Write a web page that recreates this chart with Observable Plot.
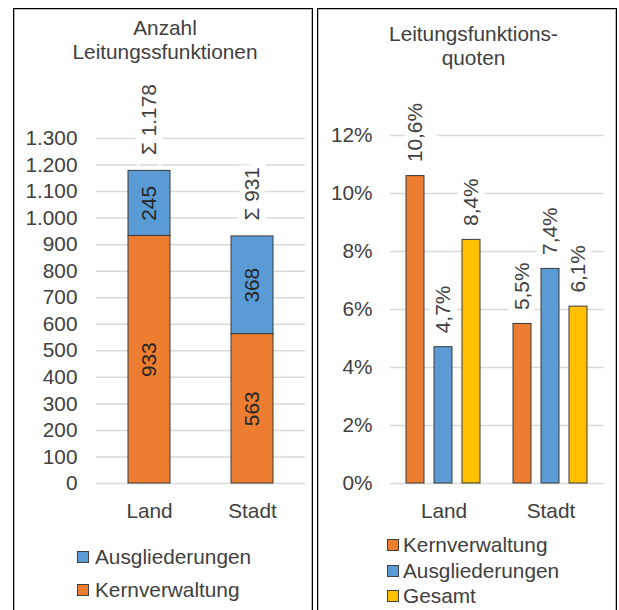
<!DOCTYPE html>
<html>
<head>
<meta charset="utf-8">
<script src="https://cdn.jsdelivr.net/npm/d3@7"></script>
<script src="https://cdn.jsdelivr.net/npm/@observablehq/plot@0.6"></script>
<style>
  html, body { margin: 0; padding: 0; }
  body { width: 619px; height: 610px; overflow: hidden; background: #fff; position: relative;
         font-family: "Liberation Sans", Arial, sans-serif; color: #404040; }
  .panel { position: absolute; top: 8px; width: 298px; height: 640px; border: 1px solid #000;
           box-shadow: inset 0 0 0 1px #b8b8b8; }
  .title { position: absolute; text-align: center; font-size: 20.8px; line-height: 24px; }
  .chart { position: absolute; }
  .legend { position: absolute; font-size: 20.8px; }
  .legend .row { position: absolute; left: 0; white-space: nowrap; height: 24px; line-height: 24px; }
  .legend .sw { position: absolute; left: 0; top: 6px; width: 10px; height: 10px; border: 1px solid #404040; }
  .legend .lab { position: absolute; white-space: nowrap; }
</style>
</head>
<body>
<div class="panel" style="left:13px"></div>
<div class="panel" style="left:317px"></div>
<div class="title" style="left:13px;width:304px;top:16px">Anzahl<br>Leitungssfunktionen</div>
<div class="title" style="left:317px;width:313px;top:22px">Leitungsfunktions-<br>quoten</div>
<div id="left" class="chart" style="left:14px;top:70px"></div>
<div id="right" class="chart" style="left:318px;top:70px"></div>
<div id="legendLeft" class="legend" style="left:77px;top:0px"></div>
<div id="legendRight" class="legend" style="left:387px;top:0px"></div>
<script>
// ---- data ----
const regions = ["Land", "Stadt"];
const countSeries = ["Kernverwaltung", "Ausgliederungen"];
const kernCounts = [933, 563];
const ausCounts = [245, 368];
const countTicks = [0, 100, 200, 300, 400, 500, 600, 700, 800, 900, 1000, 1100, 1200, 1300];

const quoteSeries = ["Kernverwaltung", "Ausgliederungen", "Gesamt"];
const kernQuotes = [0.106, 0.055];
const ausQuotes = [0.047, 0.074];
const gesQuotes = [0.084, 0.061];
const quoteTicks = [0, 0.02, 0.04, 0.06, 0.08, 0.10, 0.12];

const leftLegendOrder = ["Ausgliederungen", "Kernverwaltung"];
const rightLegendOrder = ["Kernverwaltung", "Ausgliederungen", "Gesamt"];
const seriesColors = {Kernverwaltung: "#ED7D31", Ausgliederungen: "#5B9BD5", Gesamt: "#FFC000"};

// ---- formatting ----
const de = d3.formatLocale({decimal: ",", thousands: ".", grouping: [3], currency: ["", " €"]});
const fmtInt = de.format(",");
const fmtPct0 = de.format(".0%");
const fmtPct1 = de.format(".1%");

const FONT = '"Liberation Sans", Arial, sans-serif';
const FS = "20.8px";
const TEXT = "#404040";
const GRID = "#d9d9d9";
const EDGE = "#3a3a3a";

// ---- tables ----
const countRows = [];
countSeries.forEach(s => regions.forEach((r, i) => {
  countRows.push({region: r, series: s, value: s === "Kernverwaltung" ? kernCounts[i] : ausCounts[i]});
}));
const totals = regions.map((r, i) => ({region: r, total: kernCounts[i] + ausCounts[i]}));

const quoteRows = [];
regions.forEach((r, i) => {
  quoteRows.push({region: r, series: "Kernverwaltung", value: kernQuotes[i]});
  quoteRows.push({region: r, series: "Ausgliederungen", value: ausQuotes[i]});
  quoteRows.push({region: r, series: "Gesamt", value: gesQuotes[i]});
});

const halo = {stroke: "white", strokeWidth: 13, strokeLinejoin: "miter", paintOrder: "stroke"};

// ---- left chart ----
const left = Plot.plot({
  width: 298, height: 460,
  marginLeft: 82, marginRight: 7, marginTop: 68, marginBottom: 47,
  style: {fontSize: FS, fontFamily: FONT, color: TEXT, background: "transparent", overflow: "visible"},
  x: {domain: regions, paddingInner: 0.594, paddingOuter: 0.309, tickSize: 0, tickPadding: 20, label: null},
  y: {domain: [0, 1300], ticks: countTicks, tickFormat: fmtInt, tickSize: 0, tickPadding: 19, label: null},
  color: {domain: countSeries, range: countSeries.map(s => seriesColors[s])},
  marks: [
    Plot.ruleY(countTicks, {stroke: GRID, strokeWidth: 1.5}),
    Plot.barY(countRows, {x: "region", y: "value", fill: "series", z: "series", stroke: EDGE, strokeWidth: 1}),
    Plot.text(countRows, Plot.stackY({x: "region", y: "value", z: "series", text: d => fmtInt(d.value),
      rotate: -90, fill: "#262626"})),
    Plot.text(totals, {x: "region", y: "total", text: d => "Σ " + fmtInt(d.total), rotate: -90,
      textAnchor: "start", dy: -16, fill: TEXT, ...halo})
  ]
});
document.getElementById("left").appendChild(left);

// ---- right chart ----
const right = Plot.plot({
  width: 297, height: 460,
  marginLeft: 72, marginRight: 11, marginTop: 65, marginBottom: 47,
  style: {fontSize: FS, fontFamily: FONT, color: TEXT, background: "transparent", overflow: "visible"},
  fx: {domain: regions, padding: 0, axis: "bottom", tickSize: 0, tickPadding: 20, label: null},
  x: {domain: quoteSeries, paddingInner: 0.34, paddingOuter: 0.58, axis: null},
  y: {domain: [0, 0.12], ticks: quoteTicks, tickFormat: fmtPct0, tickSize: 0, tickPadding: 18, label: null},
  color: {domain: quoteSeries, range: quoteSeries.map(s => seriesColors[s])},
  marks: [
    Plot.ruleY(quoteTicks, {stroke: GRID, strokeWidth: 1.5}),
    Plot.barY(quoteRows, {fx: "region", x: "series", y: "value", fill: "series", stroke: EDGE, strokeWidth: 1}),
    Plot.text(quoteRows, {fx: "region", x: "series", y: "value", text: d => fmtPct1(d.value), rotate: -90,
      textAnchor: "start", dy: -14, fill: TEXT, ...halo})
  ]
});
document.getElementById("right").appendChild(right);

// ---- legends ----
function legend(el, order, tops, textLeft) {
  order.forEach((s, i) => {
    const row = document.createElement("div");
    row.className = "row";
    row.style.top = (tops[i] - 12) + "px";
    const sw = document.createElement("div");
    sw.className = "sw";
    sw.style.background = seriesColors[s];
    const lab = document.createElement("span");
    lab.className = "lab";
    lab.style.left = textLeft + "px";
    lab.textContent = s;
    row.appendChild(sw);
    row.appendChild(lab);
    el.appendChild(row);
  });
}
legend(document.getElementById("legendLeft"), leftLegendOrder, [557, 590], 18);
legend(document.getElementById("legendRight"), rightLegendOrder, [545, 570.5, 596], 16);
</script>
</body>
</html>
